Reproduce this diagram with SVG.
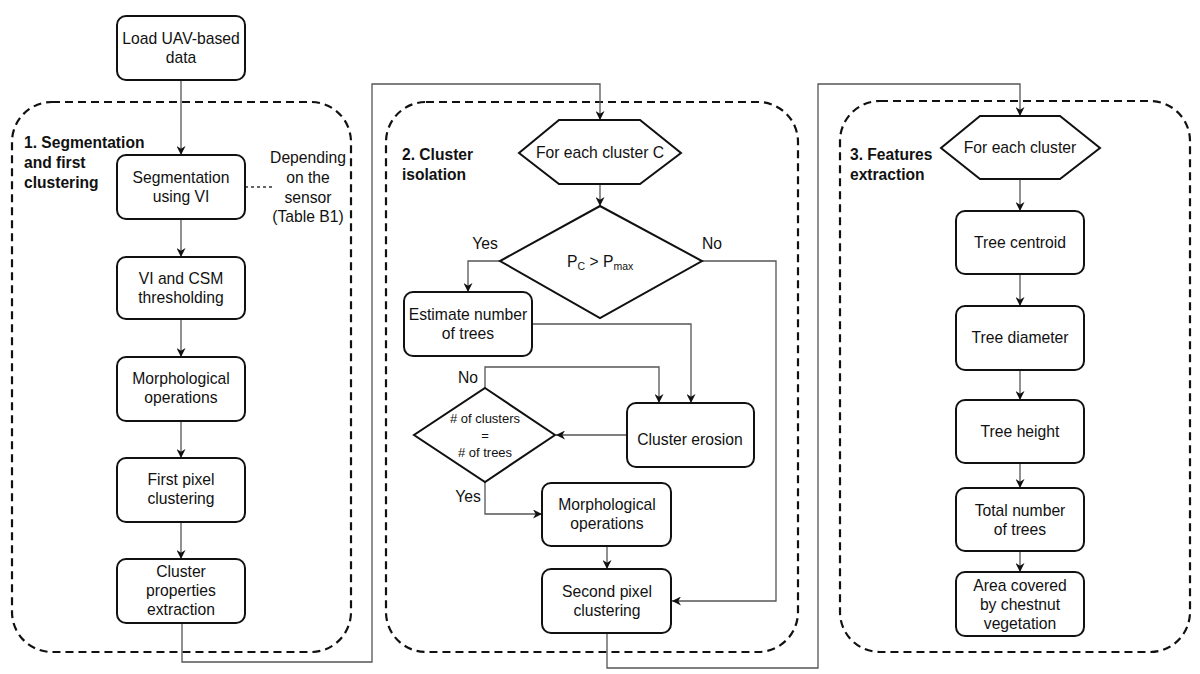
<svg xmlns="http://www.w3.org/2000/svg" width="1200" height="674" viewBox="0 0 1200 674">
<style>
.box{fill:#fff;stroke:#111;stroke-width:2}
.grp{fill:none;stroke:#111;stroke-width:2.2;stroke-dasharray:8 5}
.t{font-family:"Liberation Sans",Arial,sans-serif;font-size:15.7px;fill:#111;text-anchor:middle}
.s{font-size:13px}
.b{font-family:"Liberation Sans",Arial,sans-serif;font-size:15.6px;font-weight:bold;fill:#111}
.c{fill:none;stroke:#555;stroke-width:1.3}
.ca{fill:none;stroke:#555;stroke-width:1.3;marker-end:url(#ah)}
</style>
<defs>
<marker id="ah" viewBox="0 0 10 10" refX="10" refY="5" markerWidth="9" markerHeight="9" markerUnits="userSpaceOnUse" orient="auto">
<path d="M0,0 L10,5 L0,10 L3,5 Z" fill="#111"/>
</marker>
</defs>
<rect width="1200" height="674" fill="#fff"/>

<g id="containers">
<rect class="grp" x="12" y="102" width="339" height="550" rx="40"/>
<rect class="grp" x="386" y="102" width="412" height="550" rx="40"/>
<rect class="grp" x="840" y="101" width="350" height="551" rx="40"/>
<text class="b" x="24" y="148">1. Segmentation</text>
<text class="b" x="24" y="168">and first</text>
<text class="b" x="24" y="188">clustering</text>
<text class="b" x="402" y="160">2. Cluster</text>
<text class="b" x="402" y="180">isolation</text>
<text class="b" x="850" y="160">3. Features</text>
<text class="b" x="850" y="180">extraction</text>
</g>

<g id="connectors">
<line class="ca" x1="181" y1="80" x2="181" y2="155"/>
<line class="ca" x1="181" y1="219" x2="181" y2="257"/>
<line class="ca" x1="181" y1="319" x2="181" y2="357"/>
<line class="ca" x1="181" y1="421" x2="181" y2="458"/>
<line class="ca" x1="181" y1="522" x2="181" y2="559"/>
<line x1="245" y1="187" x2="272" y2="187" stroke="#333" stroke-width="1.3" stroke-dasharray="3 3"/>
<polyline class="ca" points="182,623 182,662 372,662 372,84 600,84 600,120"/>
<line class="ca" x1="600" y1="184" x2="600" y2="206"/>
<polyline class="ca" points="500,261 468,261 468,292"/>
<polyline class="ca" points="702,261 776,261 776,601 672,601"/>
<polyline class="ca" points="532,324 691,324 691,403"/>
<polyline class="ca" points="485,388 485,367 659,367 659,403"/>
<line class="ca" x1="627" y1="435" x2="556" y2="435"/>
<polyline class="ca" points="485,482 485,514 542,514"/>
<line class="ca" x1="607" y1="546" x2="607" y2="569"/>
<polyline class="ca" points="607,633 607,668 818,668 818,84 1020,84 1020,116"/>
<line class="ca" x1="1020" y1="179" x2="1020" y2="211"/>
<line class="ca" x1="1020" y1="274" x2="1020" y2="306"/>
<line class="ca" x1="1020" y1="370" x2="1020" y2="400"/>
<line class="ca" x1="1020" y1="463" x2="1020" y2="488"/>
<line class="ca" x1="1020" y1="551" x2="1020" y2="572"/>
<text class="t" x="485" y="249">Yes</text>
<text class="t" x="712" y="249">No</text>
<text class="t" x="468" y="383">No</text>
<text class="t" x="468" y="502">Yes</text>
</g>

<g id="n-load">
<rect class="box" x="117" y="16" width="128" height="64" rx="9"/>
<text class="t" x="181" y="44">Load UAV-based</text>
<text class="t" x="181" y="63">data</text>
</g>
<g id="n-seg">
<rect class="box" x="117" y="155" width="128" height="64" rx="9"/>
<text class="t" x="181" y="183">Segmentation</text>
<text class="t" x="181" y="202">using VI</text>
</g>
<g id="n-note">
<text class="t" x="308" y="163">Depending</text>
<text class="t" x="308" y="183">on the</text>
<text class="t" x="308" y="203">sensor</text>
<text class="t" x="308" y="222">(Table B1)</text>
</g>
<g id="n-thresh">
<rect class="box" x="117" y="257" width="128" height="62" rx="9"/>
<text class="t" x="181" y="284">VI and CSM</text>
<text class="t" x="181" y="303">thresholding</text>
</g>
<g id="n-morph1">
<rect class="box" x="117" y="357" width="128" height="64" rx="9"/>
<text class="t" x="181" y="384">Morphological</text>
<text class="t" x="181" y="403">operations</text>
</g>
<g id="n-first">
<rect class="box" x="117" y="458" width="128" height="64" rx="9"/>
<text class="t" x="181" y="485">First pixel</text>
<text class="t" x="181" y="504">clustering</text>
</g>
<g id="n-props">
<rect class="box" x="117" y="559" width="128" height="64" rx="9"/>
<text class="t" x="181" y="577">Cluster</text>
<text class="t" x="181" y="596">properties</text>
<text class="t" x="181" y="615">extraction</text>
</g>

<g id="n-foreachC">
<polygon class="box" points="559,120 640,120 681,153 640,184 559,184 519,153"/>
<text class="t" x="600" y="158">For each cluster C</text>
</g>
<g id="n-dec1">
<polygon class="box" points="600,206 702,261 600,318 500,261"/>
<text class="t" x="567" y="267" style="text-anchor:start">P<tspan font-size="10.5" dy="3">C</tspan><tspan dy="-3"> &gt; P</tspan><tspan font-size="10.5" dy="3">max</tspan></text>
</g>
<g id="n-estimate">
<rect class="box" x="404" y="292" width="128" height="64" rx="9"/>
<text class="t" x="468" y="320">Estimate number</text>
<text class="t" x="468" y="339">of trees</text>
</g>
<g id="n-dec2">
<polygon class="box" points="485,388 555,435 485,482 414,435"/>
<text class="t s" x="485" y="423">  # of clusters</text>
<text class="t s" x="485" y="440">=</text>
<text class="t s" x="485" y="457">  # of trees</text>
</g>
<g id="n-erosion">
<rect class="box" x="627" y="403" width="127" height="64" rx="9"/>
<text class="t" x="690" y="445">Cluster erosion</text>
</g>
<g id="n-morph2">
<rect class="box" x="542" y="483" width="129" height="63" rx="9"/>
<text class="t" x="607" y="510">Morphological</text>
<text class="t" x="607" y="529">operations</text>
</g>
<g id="n-second">
<rect class="box" x="542" y="569" width="129" height="64" rx="9"/>
<text class="t" x="607" y="597">Second pixel</text>
<text class="t" x="607" y="616">clustering</text>
</g>

<g id="n-foreach">
<polygon class="box" points="980,116 1060,116 1100,148 1060,179 980,179 941,148"/>
<text class="t" x="1020" y="153">For each cluster</text>
</g>
<g id="n-centroid">
<rect class="box" x="956" y="211" width="128" height="63" rx="9"/>
<text class="t" x="1020" y="248">Tree centroid</text>
</g>
<g id="n-diameter">
<rect class="box" x="956" y="306" width="128" height="64" rx="9"/>
<text class="t" x="1020" y="343">Tree diameter</text>
</g>
<g id="n-height">
<rect class="box" x="956" y="400" width="128" height="63" rx="9"/>
<text class="t" x="1020" y="437">Tree height</text>
</g>
<g id="n-total">
<rect class="box" x="956" y="488" width="128" height="63" rx="9"/>
<text class="t" x="1020" y="516">Total number</text>
<text class="t" x="1020" y="535">of trees</text>
</g>
<g id="n-area">
<rect class="box" x="956" y="572" width="128" height="64" rx="9"/>
<text class="t" x="1020" y="591">Area covered</text>
<text class="t" x="1020" y="610">by chestnut</text>
<text class="t" x="1020" y="629">vegetation</text>
</g>
</svg>
